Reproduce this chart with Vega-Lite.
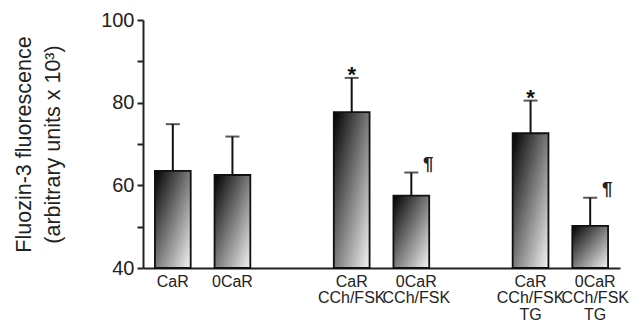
{
  "$schema": "https://vega.github.io/schema/vega-lite/v6.json",
  "width": 477,
  "height": 248,
  "autosize": "none",
  "padding": {"left": 143, "top": 20, "right": 24, "bottom": 56},
  "background": "white",
  "config": {"view": {"stroke": null}, "font": "Liberation Sans"},
  "data": {"values": [
    {"group": "CaR", "mean": 63.5, "upper": 74.8, "sig": ""},
    {"group": "0CaR", "mean": 62.5, "upper": 71.8, "sig": ""},
    {"group": "CaR|CCh/FSK", "mean": 77.7, "upper": 86.0, "sig": "*"},
    {"group": "0CaR|CCh/FSK", "mean": 57.5, "upper": 63.1, "sig": "¶"},
    {"group": "CaR|CCh/FSK|TG", "mean": 72.6, "upper": 80.5, "sig": "*"},
    {"group": "0CaR|CCh/FSK|TG", "mean": 50.2, "upper": 57.0, "sig": "¶"}
  ]},
  "encoding": {
    "x": {
      "field": "group", "type": "nominal", "sort": null,
      "scale": {"domain": ["CaR", "0CaR", "gap1", "CaR|CCh/FSK", "0CaR|CCh/FSK", "gap2", "CaR|CCh/FSK|TG", "0CaR|CCh/FSK|TG"], "paddingInner": 0.4, "paddingOuter": 0.2},
      "axis": {
        "title": null, "labelAngle": 0, "ticks": false, "domainColor": "#222", "domainWidth": 2,
        "labelFontSize": 16, "labelColor": "#222", "labelPadding": 5, "labelLineHeight": 16.5,
        "labelOverlap": false,
        "labelOffset": {"condition": {"test": "indexof(datum.label,'0CaR|')==0", "value": 5}, "value": 0},
        "labelExpr": "indexof(datum.label,'gap')==0 ? '' : split(datum.label,'|')"
      }
    }
  },
  "layer": [
    {
      "mark": {"type": "bar", "stroke": "#111", "strokeWidth": 1.8,
        "color": {"gradient": "linear", "x1": 0, "y1": 0, "x2": 1, "y2": 1,
          "stops": [{"offset": 0, "color": "#000000"}, {"offset": 1, "color": "#f4f4f4"}]}},
      "encoding": {
        "y": {"field": "mean", "type": "quantitative",
          "scale": {"domain": [40, 100], "zero": false, "nice": false},
          "axis": {
            "values": [40, 50, 60, 70, 80, 90, 100],
            "labelExpr": "datum.value % 20 == 0 ? datum.label : ''",
            "grid": false, "domainColor": "#222", "domainWidth": 2, "tickColor": "#222", "tickWidth": 2, "tickSize": 6,
            "labelFontSize": 20, "labelColor": "#222", "labelPadding": 3,
            "title": ["Fluozin-3 fluorescence", "(arbitrary units x 10³)"],
            "titleFontSize": 21.5, "titleFontWeight": "normal", "titleColor": "#222", "titlePadding": 36, "titleLineHeight": 29
          }},
        "y2": {"datum": 40}
      }
    },
    {
      "mark": {"type": "rule", "color": "#111", "strokeWidth": 2},
      "encoding": {"y": {"field": "mean", "type": "quantitative"}, "y2": {"field": "upper"}}
    },
    {
      "mark": {"type": "tick", "color": "#111", "size": 14, "thickness": 2, "orient": "horizontal"},
      "encoding": {"y": {"field": "upper", "type": "quantitative"}}
    },
    {
      "transform": [{"filter": "datum.sig == '*'"}],
      "mark": {"type": "text", "fontSize": 22, "fontWeight": "bold", "baseline": "alphabetic", "dy": 4, "color": "#111"},
      "encoding": {"y": {"field": "upper", "type": "quantitative"}, "text": {"field": "sig"}}
    },
    {
      "transform": [{"filter": "datum.sig == '¶'"}],
      "mark": {"type": "text", "fontSize": 19, "fontWeight": "bold", "baseline": "alphabetic", "dx": 17, "dy": -3, "color": "#222"},
      "encoding": {"y": {"field": "upper", "type": "quantitative"}, "text": {"field": "sig"}}
    }
  ]
}
